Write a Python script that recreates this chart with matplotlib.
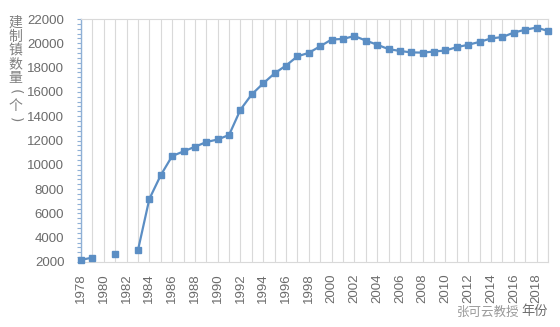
import matplotlib
matplotlib.use("Agg")
import matplotlib.pyplot as plt
from matplotlib.ticker import MultipleLocator
import numpy as np

years = list(range(1978, 2020))
towns = [2176, 2361, None, 2678, None, 2968, 7186, 9140, 10718, 11103,
         11481, 11873, 12084, 12455, 14539, 15805, 16702, 17532, 18171, 18925,
         19216, 19756, 20312, 20358, 20601, 20226, 19883, 19522, 19369, 19249,
         19234, 19322, 19410, 19683, 19881, 20117, 20401, 20515, 20883, 21116,
         21297, 21013]
y_ticks = list(range(2000, 22001, 2000))
x_ticks = list(range(1978, 2019, 2))
y_label_chars = ["建", "制", "镇", "数", "量", "(", "个", ")"]

vals = np.array([np.nan if v is None else v for v in towns], dtype=float)

fig = plt.figure(figsize=(5.6, 3.27), dpi=100)
ax = fig.add_axes([81/560, 1-262/327, (548-81)/560, (262-19)/327])

line_c = '#5b8ec4'
grid_c = '#d9d9d9'
txt_c = '#6b6b6b'
cjk = ['Noto Sans CJK SC', 'DejaVu Sans']

ax.plot(years, vals, color=line_c, lw=1.6, marker='s', ms=4.2,
        mfc=line_c, mec=line_c, zorder=3, clip_on=False)

ax.set_xlim(1978, 2019)
ax.set_ylim(2000, 22000)
ax.set_yticks(y_ticks)
ax.yaxis.set_minor_locator(MultipleLocator(400))
ax.set_xticks(x_ticks)
ax.xaxis.set_minor_locator(MultipleLocator(1))
ax.grid(True, axis='x', which='both', color=grid_c, lw=0.8)
ax.set_axisbelow(True)

for s in ['top', 'right', 'bottom']:
    ax.spines[s].set_color(grid_c)
    ax.spines[s].set_linewidth(0.8)
ax.spines['left'].set_color('#8fb0d6')
ax.spines['left'].set_linewidth(1.0)

ax.tick_params(axis='y', which='both', direction='out', color='#8fb0d6',
               length=3, width=0.8, labelsize=9.5, labelcolor=txt_c, pad=9)
ax.tick_params(axis='x', which='both', length=0, labelsize=9.5,
               labelcolor=txt_c, pad=8, labelrotation=90)
for lab in ax.get_xticklabels() + ax.get_yticklabels():
    lab.set_family('Liberation Sans')

# vertical stacked y label
for i, ch in enumerate(y_label_chars):
    ypix = 23 + i * 13.8
    if ch in "()":
        fig.text(15/560, 1-ypix/327, ch, ha='center', va='center',
                 fontsize=10, color='#808080', family='DejaVu Sans',
                 rotation=-90)
    else:
        fig.text(15/560, 1-ypix/327, ch, ha='center', va='center',
                 fontsize=10, color='#808080', family=cjk)

fig.text(535/560, 1-312/327, "年份", ha='center', va='center', fontsize=9.5,
         color=txt_c, family=cjk)
fig.text(488/560, 1-312/327, "张可云教授", ha='center', va='center', fontsize=9,
         color='#9a9a9a', family=cjk)

fig.savefig("out.png", dpi=100)
